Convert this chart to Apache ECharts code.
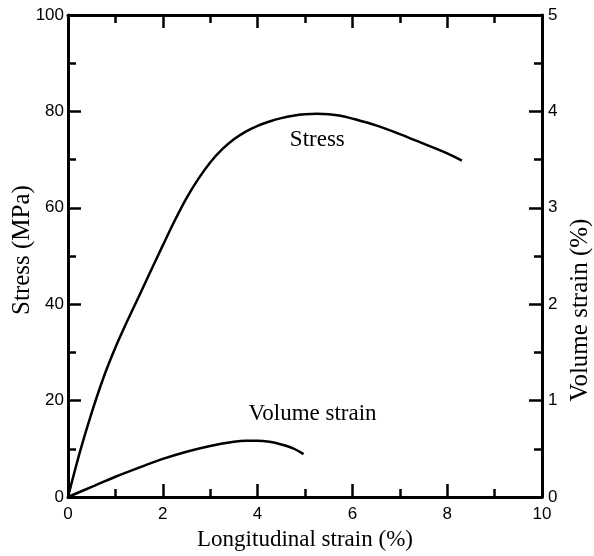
<!DOCTYPE html>
<html>
<head>
<meta charset="utf-8">
<script src="https://cdn.jsdelivr.net/npm/echarts@6/dist/echarts.min.js"></script>
<style>
html,body{margin:0;padding:0;background:#fff;}
#c{width:594px;height:556px;}
</style>
</head>
<body>
<div id="c"></div>
<script>
// Stress curve (left axis, MPa) vs longitudinal strain (%)
const stressX = [0, 0.25, 0.5, 0.75, 1.0, 1.25, 1.5, 1.75, 2.0, 2.25, 2.5, 2.75, 3.0, 3.25, 3.5, 3.75, 4.0, 4.25, 4.5, 4.75, 5.0, 5.25, 5.5, 5.75, 6.0, 6.5, 7.0, 7.5, 8.0, 8.31];
const stressY = [0, 9.3, 17.5, 24.8, 31, 36.5, 41.7, 47, 52.2, 57.3, 62, 66, 69.4, 72.1, 74.2, 75.8, 77, 77.9, 78.6, 79.1, 79.4, 79.5, 79.4, 79.1, 78.5, 77.1, 75.3, 73.3, 71.3, 69.8];
// Volume strain curve (right axis, %)
const volX = [0, 0.5, 1.0, 1.5, 2.0, 2.5, 3.0, 3.5, 3.75, 4.0, 4.25, 4.5, 4.75, 4.97];
const volY = [0, 0.105, 0.21, 0.305, 0.395, 0.47, 0.53, 0.572, 0.583, 0.583, 0.572, 0.545, 0.505, 0.445];
// Axis ticks
const xTicks = [0, 2, 4, 6, 8, 10];
const yLeftTicks = [0, 20, 40, 60, 80, 100];
const yRightTicks = [0, 1, 2, 3, 4, 5];
// Curve labels (data coordinates)
const stressLabel = {text: 'Stress', x: 5.26, y: 74};
const volLabel = {text: 'Volume strain', x: 5.16, y: 0.86};
// Axis titles
const xTitle = 'Longitudinal strain (%)';
const yLeftTitle = 'Stress (MPa)';
const yRightTitle = 'Volume strain (%)';

const serif = '"Liberation Serif", "DejaVu Serif", serif';
const sans = '"Liberation Sans", Arial, sans-serif';
const axisLine = {show: true, onZero: false, lineStyle: {color: '#000', width: 3}};
const tick = {show: true, inside: true, length: 13, lineStyle: {color: '#000', width: 2.5}};
const minor = {show: true, splitNumber: 2, length: 8, lineStyle: {color: '#000', width: 2.5}};
const lblStyle = {color: '#000', fontFamily: sans, fontSize: 17};

const chart = echarts.init(document.getElementById('c'), null, {renderer: 'canvas'});
chart.setOption({
  animation: false,
  backgroundColor: '#fff',
  grid: {left: 68, right: 52, top: 15, bottom: 58, containLabel: false},
  xAxis: [{
    type: 'value', min: xTicks[0], max: xTicks[xTicks.length - 1], interval: 2,
    position: 'bottom',
    name: xTitle, nameLocation: 'middle', nameGap: 31,
    nameTextStyle: {color: '#000', fontFamily: serif, fontSize: 23},
    axisLine: axisLine, axisTick: tick, minorTick: minor,
    splitLine: {show: false},
    axisLabel: Object.assign({margin: 9}, lblStyle)
  }, {
    type: 'value', min: xTicks[0], max: xTicks[xTicks.length - 1], interval: 2,
    position: 'top',
    axisLine: axisLine, axisTick: tick, minorTick: minor,
    splitLine: {show: false}, axisLabel: {show: false}
  }],
  yAxis: [{
    type: 'value', min: yLeftTicks[0], max: yLeftTicks[yLeftTicks.length - 1], interval: 20,
    position: 'left',
    axisLine: axisLine, axisTick: tick, minorTick: minor,
    splitLine: {show: false},
    axisLabel: Object.assign({margin: 4}, lblStyle)
  }, {
    type: 'value', min: yRightTicks[0], max: yRightTicks[yRightTicks.length - 1], interval: 1,
    position: 'right',
    axisLine: axisLine, axisTick: tick, minorTick: minor,
    splitLine: {show: false},
    axisLabel: Object.assign({margin: 6}, lblStyle)
  }],
  graphic: [{
    type: 'text', x: 22, y: 250, rotation: Math.PI / 2,
    style: {text: yLeftTitle, fill: '#000', font: '25px ' + serif, align: 'center', verticalAlign: 'middle'}
  }, {
    type: 'text', x: 580, y: 310, rotation: Math.PI / 2,
    style: {text: yRightTitle, fill: '#000', font: '25px ' + serif, align: 'center', verticalAlign: 'middle'}
  }],
  series: [{
    type: 'line', xAxisIndex: 0, yAxisIndex: 0,
    data: stressX.map((x, i) => [x, stressY[i]]),
    smooth: 0.3, showSymbol: false, symbol: 'none',
    lineStyle: {color: '#000', width: 2.5},
    markPoint: {
      symbol: 'circle', symbolSize: 1, itemStyle: {color: 'rgba(0,0,0,0)'},
      data: [{coord: [stressLabel.x, stressLabel.y], value: stressLabel.text}],
      label: {show: true, position: 'inside', formatter: stressLabel.text, color: '#000', fontFamily: serif, fontSize: 23}
    }
  }, {
    type: 'line', xAxisIndex: 0, yAxisIndex: 1,
    data: volX.map((x, i) => [x, volY[i]]),
    smooth: 0.3, showSymbol: false, symbol: 'none',
    lineStyle: {color: '#000', width: 2.5},
    markPoint: {
      symbol: 'circle', symbolSize: 1, itemStyle: {color: 'rgba(0,0,0,0)'},
      data: [{coord: [volLabel.x, volLabel.y], value: volLabel.text}],
      label: {show: true, position: 'inside', formatter: volLabel.text, color: '#000', fontFamily: serif, fontSize: 23}
    }
  }]
});
</script>
</body>
</html>
